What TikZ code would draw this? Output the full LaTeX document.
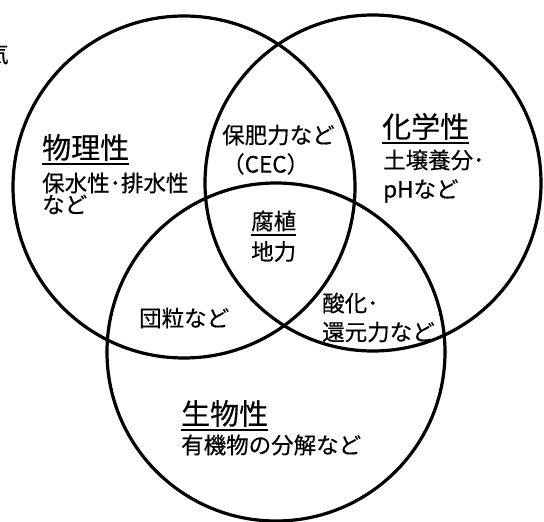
\documentclass[tikz,border=0pt]{standalone}
\usepackage{fontspec}
\setmainfont{Noto Sans CJK JP}[FakeBold=0.4]
\begin{document}
\begin{tikzpicture}[x=1pt,y=-1pt,
  ring/.style={draw=black,line width=3.2pt},
  head/.style={font=\fontsize{29}{34}\selectfont,inner sep=0pt,anchor=west},
  body/.style={font=\fontsize{22.5}{27}\selectfont,inner sep=0pt,anchor=west},
  uline/.style={line width=2pt}]
\useasboundingbox (0,0) rectangle (544,522);
% circles
\draw[ring] (184,187) circle[radius=171];
\draw[ring] (373,183) circle[radius=168];
\draw[ring] (276,352) circle[radius=169];
% clipped fragment at left edge
\node[body,anchor=east] (frag) at (9,54) {気};
% physical
\node[head] (phys) at (42,147.5) {物理性};
\node[body] (phys1) at (42,183) {保水性･排水性};
\node[body] (phys2) at (42,204.5) {など};
% chemical
\node[head] (chem) at (382,126.5) {化学性};
\node[body] (chem1) at (383,160) {土壌養分･};
\node[body] (chem2) at (383,191) {pHなど};
% overlaps
\node[body] (cec1) at (222,135) {保肥力など};
\node[body] (cec2) at (222,164) {（CEC）};
\node[body] (hum) at (251,221) {腐植};
\node[body] (hum2) at (251,251.5) {地力};
\node[body] (agg) at (139,318) {団粒など};
\node[body] (red1) at (322,303) {酸化･};
\node[body] (red2) at (322,332) {還元力など};
% biological
\node[head] (bio) at (181,413.5) {生物性};
\node[body] (bio1) at (181,445) {有機物の分解など};
% underlines
\foreach \n in {phys,chem,hum,bio}
  \draw[uline] ([yshift=-3pt]\n.south west) -- ([yshift=-3pt]\n.south east);
\end{tikzpicture}
\end{document}
